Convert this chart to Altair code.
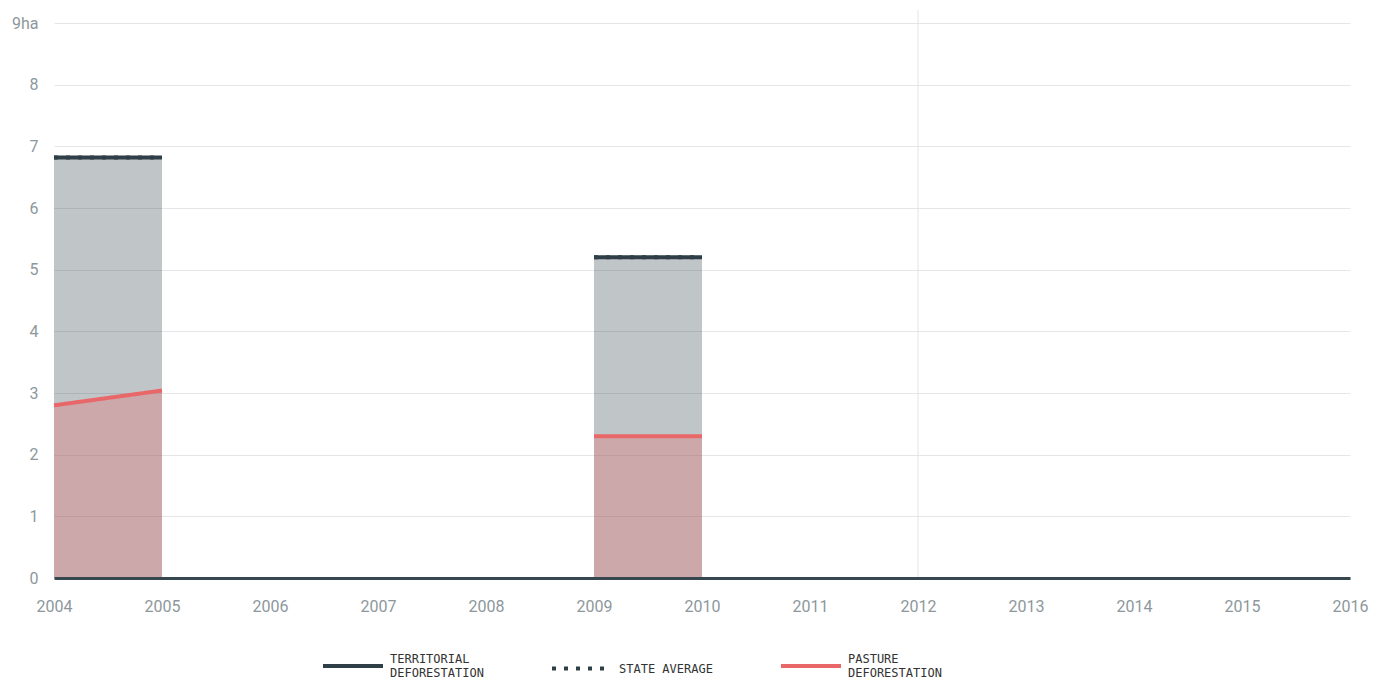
import altair as alt
import pandas as pd

# ---- data ----
years = list(range(2004, 2017))
territorial = [6.82, 6.82, None, None, None, 5.2, 5.2, None, None, None, None, None, None]
state_average = [6.82, 6.82, None, None, None, 5.2, 5.2, None, None, None, None, None, None]
pasture = [2.8, 3.04, None, None, None, 2.3, 2.3, None, None, None, None, None, None]
series_names = ["TERRITORIAL|DEFORESTATION", "STATE AVERAGE", "PASTURE|DEFORESTATION"]
series_colors = ["#2e3f47", "#2e3f47", "#e8686a"]
series_dashes = [[1, 0], [4, 8], [1, 0]]
crosshair_year = [2012]
y_ticks = [0, 1, 2, 3, 4, 5, 6, 7, 8, 9]


def segments(values):
    seg, out, prev = 0, [], None
    for v in values:
        if v is None and prev is not None:
            seg += 1
        out.append(seg)
        prev = v
    return out


seg_ids = segments(territorial)
wide = pd.DataFrame({"year": years, "territorial": territorial,
                     "pasture": pasture, "segment": seg_ids}).dropna()

rows = []
for name, vals in zip(series_names, [territorial, state_average, pasture]):
    for yr, v, s in zip(years, vals, segments(vals)):
        if v is not None:
            rows.append({"year": yr, "value": v, "series": name, "segment": s})
long = pd.DataFrame(rows)

x_enc = alt.X("year:Q",
              scale=alt.Scale(domain=[2004, 2016], nice=False, zero=False),
              axis=alt.Axis(values=years, format="d", grid=False, ticks=False,
                            domainColor="#37474f", domainWidth=3, zindex=1,
                            labelFlush=False, labelOverlap=False,
                            labelPadding=20, title=None))
y_scale = alt.Scale(domain=[0, 9], nice=False)

base_area = alt.Chart(wide).mark_area(color="#2e3f47", opacity=0.3).encode(
    x=x_enc,
    y=alt.Y("territorial:Q", scale=y_scale, stack=None,
            axis=alt.Axis(values=y_ticks, domain=False, ticks=False, grid=True,
                          gridColor="#e4e6e7", labelPadding=16, title=None,
                          labelFlush=False, format="d",
                          labelExpr="datum.value == 9 ? '9ha' : datum.label")),
    detail="segment:N",
)
pasture_area = alt.Chart(wide).mark_area(color="#e8686a", opacity=0.3).encode(
    x="year:Q", y=alt.Y("pasture:Q", stack=None), detail="segment:N")

rule = alt.Chart(pd.DataFrame({"year": crosshair_year})).mark_rule(
    color="#e3e5e6", strokeWidth=1).encode(
    x="year:Q", y=alt.value(-13), y2=alt.value(555))

legend = alt.Legend(orient="none", legendX=267, legendY=611, direction="horizontal",
                    title=None, symbolType="stroke", symbolSize=3600,
                    symbolStrokeWidth=4, labelExpr="split(datum.label, '|')",
                    labelBaseline=alt.ExprRef(
                        expr="indexof(datum.label, '|') >= 0 ? 'bottom' : 'middle'"),
                    labelFont="DejaVu Sans Mono", labelFontSize=12, labelColor="#333333",
                    columnPadding=60, labelOffset=5, labelLimit=300)

lines = alt.Chart(long).mark_line(strokeWidth=4).encode(
    x="year:Q",
    y="value:Q",
    color=alt.Color("series:N", scale=alt.Scale(domain=series_names, range=series_colors),
                    legend=legend, sort=series_names),
    strokeDash=alt.StrokeDash("series:N",
                              scale=alt.Scale(domain=series_names, range=series_dashes),
                              legend=legend, sort=series_names),
    detail="segment:N",
)

chart = alt.layer(rule, base_area, pasture_area, lines).properties(
    width=1296, height=555,
    autosize=alt.AutoSizeParams(type="none"),
    padding={"left": 46, "top": 15, "right": 30, "bottom": 110},
).configure_view(stroke=None).configure_axis(
    labelFont="Roboto", labelFontSize=16, labelColor="#8d979c"
)

chart.save("out.html", embed_options={"renderer": "svg", "actions": False})
